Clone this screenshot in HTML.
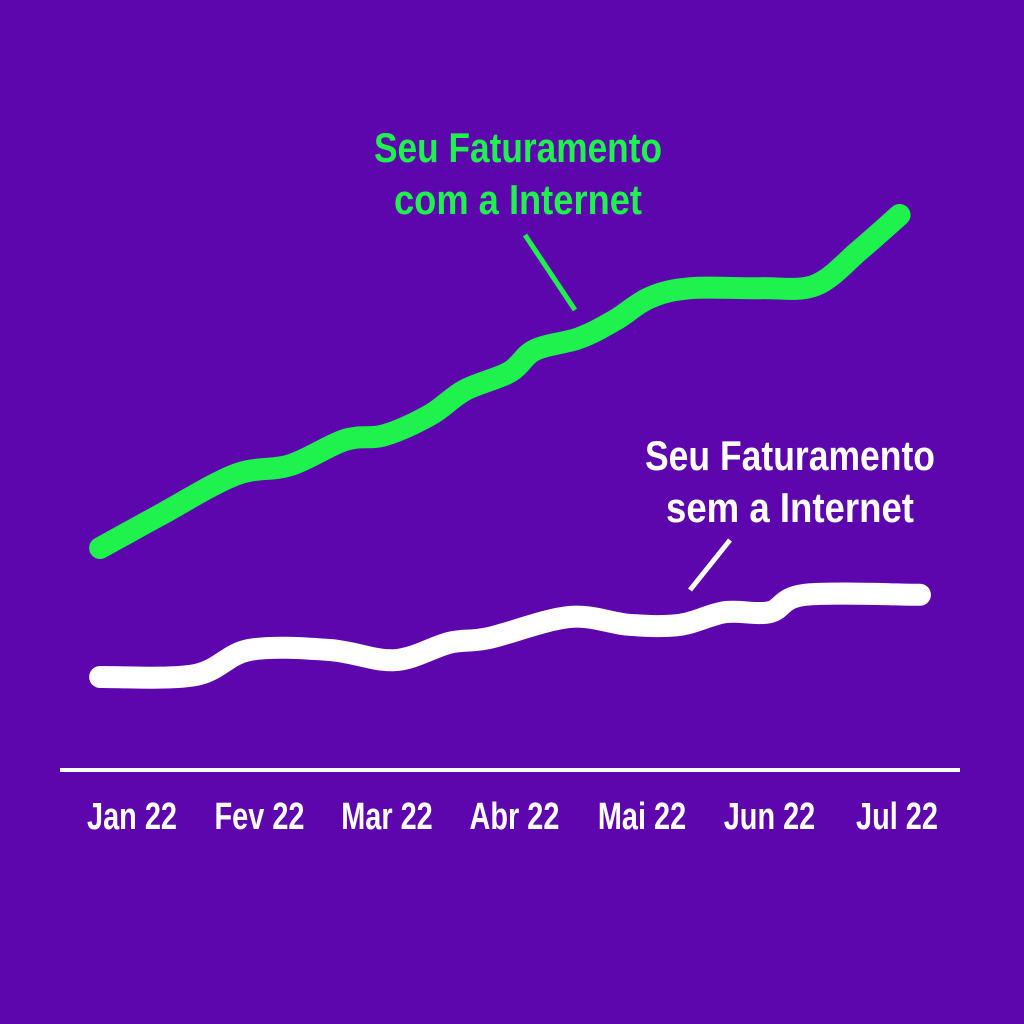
<!DOCTYPE html>
<html><head><meta charset="utf-8"><style>
html,body{margin:0;padding:0;background:#5e06ad;}
svg{display:block}
text{font-family:"Liberation Sans",sans-serif;font-weight:bold;}
</style></head><body>
<svg id="chart" width="1024" height="1024" viewBox="0 0 1024 1024">
<rect width="1024" height="1024" fill="#5e06ad"/>
<g id="marks"></g>
<line x1="60" y1="770" x2="960" y2="770" stroke="#fff" stroke-width="4"/>
<g id="ticks"></g>
<text x="518" y="162" text-anchor="middle" fill="#1ff24d" font-size="42" textLength="288" lengthAdjust="spacingAndGlyphs">Seu Faturamento</text>
<text x="518" y="214" text-anchor="middle" fill="#1ff24d" font-size="42" textLength="248" lengthAdjust="spacingAndGlyphs">com a Internet</text>
<line x1="525" y1="235" x2="575" y2="310" stroke="#1ff24d" stroke-width="5"/>
<text x="790" y="470" text-anchor="middle" fill="#fff" font-size="42" textLength="290" lengthAdjust="spacingAndGlyphs">Seu Faturamento</text>
<text x="790" y="522" text-anchor="middle" fill="#fff" font-size="42" textLength="248" lengthAdjust="spacingAndGlyphs">sem a Internet</text>
<line x1="730" y1="540" x2="690" y2="590" stroke="#fff" stroke-width="5"/>
</svg>
<script>
const categories=["Jan 22","Fev 22","Mar 22","Abr 22","Mai 22","Jun 22","Jul 22"];
const greenT=[-0.25,0.22,0.81,1.24,1.67,1.98,2.34,2.61,2.96,3.16,3.51,3.79,4.06,4.38,4.93,5.36,5.71,6.02];
const greenV=[37,42.5,49.2,50.8,55,55.8,59.2,63.3,66.3,70,72,75,78.7,80.3,80.3,80.8,86.7,92.5];
const whiteT=[-0.25,0.49,0.92,1.55,2.06,2.49,2.8,3.43,3.9,4.3,4.65,5,5.28,6.18];
const whiteV=[15.5,15.8,20,20,18.3,21.2,22,25.5,24.2,24.2,26.3,26.3,29.2,29.2];
function xs(t){return 132+t*127.5;}
function ys(v){return 770-v*6;}
const NS="http://www.w3.org/2000/svg";
function path(T,V,color,name){
  const pts=T.map((t,i)=>[xs(t),ys(V[i])]);
  let d="M"+pts[0][0]+","+pts[0][1];
  for(let i=0;i<pts.length-1;i++){
    const p0=pts[Math.max(0,i-1)],p1=pts[i],p2=pts[i+1],p3=pts[Math.min(pts.length-1,i+2)];
    const k=1/6;
    d+=" C"+(p1[0]+(p2[0]-p0[0])*k)+","+(p1[1]+(p2[1]-p0[1])*k)+" "+(p2[0]-(p3[0]-p1[0])*k)+","+(p2[1]-(p3[1]-p1[1])*k)+" "+p2[0]+","+p2[1];
  }
  const p=document.createElementNS(NS,"path");
  p.setAttribute("d",d);p.setAttribute("fill","none");p.setAttribute("stroke",color);
  p.setAttribute("stroke-width","22");p.setAttribute("stroke-linecap","round");p.setAttribute("stroke-linejoin","round");
  
  
  document.getElementById("marks").appendChild(p);
}
path(greenT,greenV,"#1ff24d","line-with-internet");
path(whiteT,whiteV,"#ffffff","line-without-internet");
categories.forEach((c,i)=>{
  const t=document.createElementNS(NS,"text");
  t.setAttribute("x",xs(i));t.setAttribute("y",829);t.setAttribute("text-anchor","middle");
  t.setAttribute("fill","#fff");t.setAttribute("font-size","38");
  t.textContent=c;
  
  
  document.getElementById("ticks").appendChild(t);
  const w=t.getComputedTextLength();
  t.setAttribute("textLength",w*0.76);
  t.setAttribute("lengthAdjust","spacingAndGlyphs");
});
</script>
</body></html>
